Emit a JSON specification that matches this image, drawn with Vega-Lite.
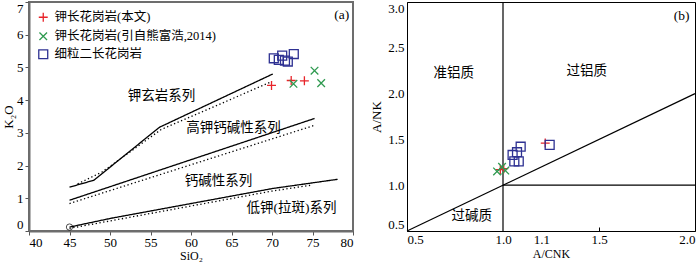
{
  "$schema": "https://vega.github.io/schema/vega-lite/v6.json",
  "padding": {"left": 1, "top": 0, "right": 2, "bottom": 0},
  "background": "white",
  "bounds": "flush",
  "spacing": 54,
  "config": {
    "font": "Liberation Serif, Noto Sans CJK SC",
    "view": {"stroke": null},
    "axis": {"labelFontSize": 13, "titleFontSize": 13, "labelColor": "black", "titleColor": "black", "titleFontWeight": "normal", "grid": false, "labelFont": "Liberation Serif", "titleFont": "Liberation Serif", "labelOverlap": false}
  },
  "resolve": {"scale": {"color": "independent", "shape": "independent"}, "legend": {"color": "independent", "shape": "independent"}},
  "datasets": {
    "lines": [
      {"x": 45, "y": 1.34, "id": "s1", "dash": "solid"},
      {"x": 48, "y": 1.55, "id": "s1", "dash": "solid"},
      {"x": 56.1, "y": 3.17, "id": "s1", "dash": "solid"},
      {"x": 70.1, "y": 4.8, "id": "s1", "dash": "solid"},
      {"x": 46, "y": 1.44, "id": "d1", "dash": "dotted"},
      {"x": 49, "y": 1.8, "id": "d1", "dash": "dotted"},
      {"x": 56.3, "y": 3.1, "id": "d1", "dash": "dotted"},
      {"x": 70, "y": 4.57, "id": "d1", "dash": "dotted"},
      {"x": 45, "y": 0.94, "id": "s2", "dash": "solid"},
      {"x": 75.25, "y": 3.44, "id": "s2", "dash": "solid"},
      {"x": 45, "y": 0.84, "id": "d2", "dash": "dotted"},
      {"x": 75.25, "y": 3.23, "id": "d2", "dash": "dotted"},
      {"x": 45, "y": 0.12, "id": "s3", "dash": "solid"},
      {"x": 50.15, "y": 0.39, "id": "s3", "dash": "solid"},
      {"x": 70.1, "y": 1.3, "id": "s3", "dash": "solid"},
      {"x": 78.1, "y": 1.58, "id": "s3", "dash": "solid"},
      {"x": 45, "y": 0.08, "id": "d3", "dash": "dotted"},
      {"x": 70, "y": 1.22, "id": "d3", "dash": "dotted"},
      {"x": 74.8, "y": 1.4, "id": "d3", "dash": "dotted"}
    ],
    "pointsA": [
      {"x": 69.94, "y": 4.45, "group": "钾长花岗岩(本文)"},
      {"x": 72.37, "y": 4.6, "group": "钾长花岗岩(本文)"},
      {"x": 74.0, "y": 4.59, "group": "钾长花岗岩(本文)"},
      {"x": 72.65, "y": 4.5, "group": "钾长花岗岩(引自熊富浩,2014)"},
      {"x": 75.25, "y": 4.9, "group": "钾长花岗岩(引自熊富浩,2014)"},
      {"x": 76.07, "y": 4.52, "group": "钾长花岗岩(引自熊富浩,2014)"},
      {"x": 70.22, "y": 5.28, "group": "细粒二长花岗岩"},
      {"x": 70.84, "y": 5.23, "group": "细粒二长花岗岩"},
      {"x": 71.26, "y": 5.36, "group": "细粒二长花岗岩"},
      {"x": 71.95, "y": 5.18, "group": "细粒二长花岗岩"},
      {"x": 71.6, "y": 5.21, "group": "细粒二长花岗岩"},
      {"x": 72.69, "y": 5.41, "group": "细粒二长花岗岩"}
    ],
    "pointsB": [
      {"x": 1.22, "y": 1.46, "group": "钾长花岗岩(本文)"},
      {"x": 1.004, "y": 1.18, "group": "钾长花岗岩(本文)"},
      {"x": 0.986, "y": 1.17, "group": "钾长花岗岩(本文)"},
      {"x": 0.969, "y": 1.15, "group": "钾长花岗岩(引自熊富浩,2014)"},
      {"x": 0.995, "y": 1.2, "group": "钾长花岗岩(引自熊富浩,2014)"},
      {"x": 1.012, "y": 1.16, "group": "钾长花岗岩(引自熊富浩,2014)"},
      {"x": 1.05, "y": 1.33, "group": "细粒二长花岗岩"},
      {"x": 1.059, "y": 1.26, "group": "细粒二长花岗岩"},
      {"x": 1.073, "y": 1.36, "group": "细粒二长花岗岩"},
      {"x": 1.082, "y": 1.26, "group": "细粒二长花岗岩"},
      {"x": 1.092, "y": 1.42, "group": "细粒二长花岗岩"},
      {"x": 1.243, "y": 1.44, "group": "细粒二长花岗岩"}
    ]
  },
  "hconcat": [
    {
      "width": 324,
      "height": 229,
      "view": {"stroke": "#6d6d6d", "strokeWidth": 2},
      "encoding": {
        "x": {"field": "x", "type": "quantitative", "scale": {"domain": [40, 80], "nice": false, "zero": false},
          "axis": {"title": "SiO₂", "titleFontSize": 12, "values": [40, 45, 50, 55, 60, 65, 70, 75, 80], "labelOverlap": false, "tickSize": 4, "tickColor": "#555", "domainColor": "#6d6d6d", "domainWidth": 2, "labelPadding": 1, "titlePadding": 1}},
        "y": {"field": "y", "type": "quantitative", "scale": {"domain": [0, 7], "nice": false, "zero": false},
          "axis": {"title": "K₂O", "values": [0, 1, 2, 3, 4, 5, 6, 7], "tickCount": 8, "labelOverlap": false, "labelFlush": true, "tickSize": 4, "tickColor": "#555", "domainColor": "#6d6d6d", "domainWidth": 2, "labelPadding": 2, "titlePadding": 1}}
      },
      "layer": [
        {
          "data": {"name": "lines"},
          "mark": {"type": "line", "color": "black", "strokeWidth": 1.3},
          "encoding": {
            "detail": {"field": "id"},
            "strokeDash": {"field": "dash", "type": "nominal", "scale": {"domain": ["solid", "dotted"], "range": [[1, 0], [1.3, 2.5]]}, "legend": null}
          }
        },
        {
          "data": {"values": [{"x": 45, "y": 0.12}]},
          "mark": {"type": "point", "shape": "circle", "filled": false, "color": "black", "size": 40, "strokeWidth": 1},
          "encoding": {}
        },
        {
          "data": {"name": "pointsA"},
          "mark": {"type": "point", "filled": false, "size": 80, "strokeWidth": 1.3, "opacity": 1},
          "encoding": {
            "color": {"field": "group", "type": "nominal",
              "scale": {"domain": ["钾长花岗岩(本文)", "钾长花岗岩(引自熊富浩,2014)", "细粒二长花岗岩"], "range": ["#e8242a", "#2f9a50", "#2e3192"]},
              "legend": {"orient": "none", "legendX": 8, "legendY": 9, "title": null, "labelFontSize": 12.5, "labelLimit": 300, "symbolStrokeWidth": 1.3, "rowPadding": 4, "labelFont": "Liberation Serif, Noto Sans CJK SC", "labelColor": "black", "symbolSize": 80, "labelOffset": 5}},
            "shape": {"field": "group", "type": "nominal",
              "scale": {"domain": ["钾长花岗岩(本文)", "钾长花岗岩(引自熊富浩,2014)", "细粒二长花岗岩"], "range": ["M-1,0L1,0M0,-1L0,1", "M-0.85,-0.85L0.85,0.85M-0.85,0.85L0.85,-0.85", "square"]}}
          }
        },
        {
          "data": {"values": [
            {"x": 56.36, "y": 4.12, "label": "钾玄岩系列"},
            {"x": 65.25, "y": 3.14, "label": "高钾钙碱性系列"},
            {"x": 63.4, "y": 1.52, "label": "钙碱性系列"},
            {"x": 72.4, "y": 0.7, "label": "低钾(拉斑)系列"},
            {"x": 78.6, "y": 6.59, "label": "(a)"}
          ]},
          "mark": {"type": "text", "fontSize": 13.5, "color": "black", "font": "Liberation Serif, Noto Sans CJK SC"},
          "encoding": {"text": {"field": "label"}}
        }
      ]
    },
    {
      "width": 288,
      "height": 229,
      "view": {"stroke": "black", "strokeWidth": 1},
      "layer": [
        {
          "data": {"values": [
            {"x1": 1.0, "y1": 0.5, "x2": 1.0, "y2": 3.0},
            {"x1": 1.0, "y1": 1.0, "x2": 2.0, "y2": 1.0},
            {"x1": 0.5, "y1": 0.5, "x2": 2.0, "y2": 2.0}
          ]},
          "mark": {"type": "rule", "color": "black", "strokeWidth": 1.2},
          "encoding": {
            "x": {"field": "x1", "type": "quantitative", "scale": {"domain": [0.5, 2.0], "nice": false, "zero": false},
              "axis": {"title": "A/CNK", "titleFontSize": 12, "values": [0.5, 1.0, 1.2, 1.5, 2.0], "labelOverlap": false, "labelExpr": "datum.value == 1.2 ? '1.1' : format(datum.value, '.1f')", "labelFlush": true, "tickSize": -4, "tickColor": "black",
                "tickOpacity": {"condition": {"test": "datum.value == 1.5", "value": 1}, "value": 0}, "domainColor": "black", "labelPadding": 6, "titlePadding": 2}},
            "y": {"field": "y1", "type": "quantitative", "scale": {"domain": [0.5, 3.0], "nice": false, "zero": false},
              "axis": {"title": "A/NK", "values": [0.5, 1.0, 1.5, 2.0, 2.5, 3.0], "labelOverlap": false, "labelFlush": true, "format": ".1f", "ticks": false, "domainColor": "black", "labelPadding": 3, "titlePadding": 4}},
            "x2": {"field": "x2"},
            "y2": {"field": "y2"}
          }
        },
        {
          "data": {"name": "pointsB"},
          "mark": {"type": "point", "filled": false, "size": 80, "strokeWidth": 1.3, "opacity": 1},
          "encoding": {
            "x": {"field": "x", "type": "quantitative"},
            "y": {"field": "y", "type": "quantitative"},
            "color": {"field": "group", "type": "nominal",
              "scale": {"domain": ["钾长花岗岩(本文)", "钾长花岗岩(引自熊富浩,2014)", "细粒二长花岗岩"], "range": ["#e8242a", "#2f9a50", "#2e3192"]}, "legend": null},
            "shape": {"field": "group", "type": "nominal",
              "scale": {"domain": ["钾长花岗岩(本文)", "钾长花岗岩(引自熊富浩,2014)", "细粒二长花岗岩"], "range": ["M-1,0L1,0M0,-1L0,1", "M-0.85,-0.85L0.85,0.85M-0.85,0.85L0.85,-0.85", "square"]}, "legend": null}
          }
        },
        {
          "data": {"values": [
            {"x": 0.743, "y": 2.23, "label": "准铝质"},
            {"x": 1.436, "y": 2.25, "label": "过铝质"},
            {"x": 0.837, "y": 0.66, "label": "过碱质"},
            {"x": 1.93, "y": 2.85, "label": "(b)"}
          ]},
          "mark": {"type": "text", "fontSize": 13.5, "color": "black", "font": "Liberation Serif, Noto Sans CJK SC"},
          "encoding": {"x": {"field": "x", "type": "quantitative"}, "y": {"field": "y", "type": "quantitative"}, "text": {"field": "label"}}
        }
      ]
    }
  ]
}
